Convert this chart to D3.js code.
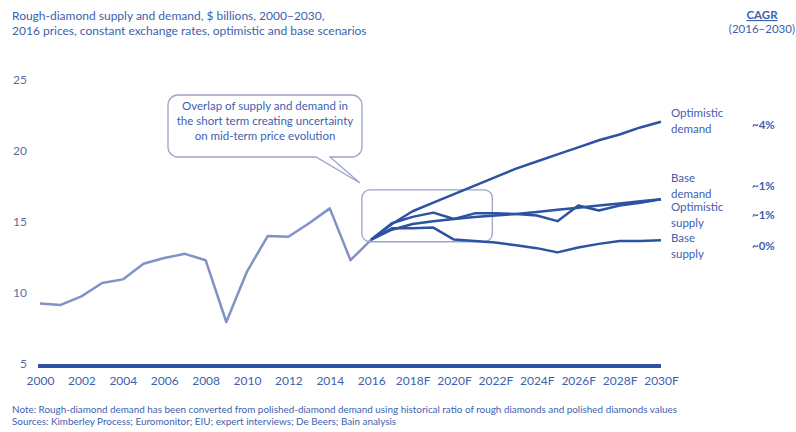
<!DOCTYPE html>
<html><head><meta charset="utf-8">
<script src="https://cdn.jsdelivr.net/npm/d3@7"></script>
<style>
body{margin:0;background:#fff;}
svg{display:block;font-family:Lato,"Open Sans",sans-serif;}
</style></head>
<body><svg id="c" width="796" height="432"></svg>
<script>
const histYears = [2000,2001,2002,2003,2004,2005,2006,2007,2008,2009,2010,2011,2012,2013,2014,2015,2016];
const histValues = [9.4,9.3,9.9,10.85,11.1,12.2,12.6,12.9,12.45,8.1,11.65,14.15,14.1,15.05,16.1,12.45,13.9];
const fcYears = [2016,2017,2018,2019,2020,2021,2022,2023,2024,2025,2026,2027,2028,2029,2030];
const optimisticDemand = [13.9,15.0,15.9,16.5,17.1,17.7,18.3,18.9,19.4,19.9,20.4,20.9,21.3,21.8,22.2];
const baseDemand = [13.9,14.6,15.0,15.2,15.35,15.5,15.6,15.7,15.85,16.0,16.15,16.3,16.45,16.6,16.75];
const optimisticSupply = [13.9,15.05,15.5,15.8,15.35,15.75,15.75,15.7,15.6,15.2,16.3,15.95,16.3,16.5,16.75];
const baseSupply = [13.9,14.7,14.7,14.75,13.9,13.8,13.7,13.5,13.3,13.0,13.35,13.6,13.8,13.8,13.85];
const seriesNames = [["Optimistic","demand"],["Base","demand"],["Optimistic","supply"],["Base","supply"]];
const cagrLabels = ["~4%","~1%","~1%","~0%"];
const xTickYears = [2000,2002,2004,2006,2008,2010,2012,2014,2016,2018,2020,2022,2024,2026,2028,2030];
const xTickLabels = ["2000","2002","2004","2006","2008","2010","2012","2014","2016","2018F","2020F","2022F","2024F","2026F","2028F","2030F"];
const yTicks = [5,10,15,20,25];
const titleLines = ["Rough-diamond supply and demand, $ billions, 2000–2030,","2016 prices, constant exchange rates, optimistic and base scenarios"];
const noteLines = ["Note: Rough-diamond demand has been converted from polished-diamond demand using historical ratio of rough diamonds and polished diamonds values","Sources: Kimberley Process; Euromonitor; EIU; expert interviews; De Beers; Bain analysis"];
const calloutLines = ["Overlap of supply and demand in","the short term creating uncertainty","on mid-term price evolution"];

const textColor = "#3d5fae", axisText = "#5a6e9e", histColor = "#8092c6", fcColor = "#2c52a3", boxColor = "#9aa5c6";
const svg = d3.select("#c");
const x = d3.scaleLinear().domain([2000,2030]).range([40,661]);
const y = d3.scaleLinear().domain([5,25]).range([366,82]);

// title
svg.append("g").selectAll("text").data(titleLines).join("text")
  .attr("x",12).attr("y",(d,i)=>20+i*15).attr("font-size",12).attr("fill",textColor).text(d=>d);
// CAGR header
svg.append("text").attr("x",762).attr("y",19).attr("text-anchor","middle").attr("font-size",11.5)
  .attr("font-weight","bold").attr("fill",textColor).attr("text-decoration","underline").text("CAGR");
svg.append("text").attr("x",795).attr("y",33).attr("text-anchor","end").attr("font-size",11.5)
  .attr("fill",textColor).text("(2016–2030)");

// y axis labels
const yAxis = d3.axisLeft(y).tickValues(yTicks).tickSize(0).tickPadding(0);
const gy = svg.append("g").attr("transform","translate(27,0)").call(yAxis);
gy.select(".domain").remove();
gy.selectAll("text").attr("font-size",12).attr("fill",axisText).attr("font-family","Lato,sans-serif").attr("dy","0.1em");

// x axis
const xAxis = d3.axisBottom(x).tickValues(xTickYears).tickFormat((d,i)=>xTickLabels[i]).tickSize(0).tickPadding(10);
const gx = svg.append("g").attr("transform",`translate(0,${y(5)})`).call(xAxis);
gx.select(".domain").attr("stroke",fcColor).attr("stroke-width",4).attr("d",`M${x(2000)-2},0H${x(2030)}`);
gx.selectAll("text").attr("font-size",12).attr("fill",textColor).attr("font-family","Lato,sans-serif");

const line = d3.line().x(d=>x(d[0])).y(d=>y(d[1]));
svg.append("path").datum(histYears.map((yr,i)=>[yr,histValues[i]]))
  .attr("d",line).attr("fill","none").attr("stroke",histColor).attr("stroke-width",2.5).attr("stroke-linejoin","round");

// highlight box
const hb = {x0:2015.55,x1:2021.85,y0:17.4,y1:13.75};
svg.append("rect").attr("x",x(hb.x0)).attr("y",y(hb.y0)).attr("width",x(hb.x1)-x(hb.x0)).attr("height",y(hb.y1)-y(hb.y0))
  .attr("rx",8).attr("fill","none").attr("stroke",boxColor).attr("stroke-width",1.3);

const allSeries = [optimisticDemand,baseDemand,optimisticSupply,baseSupply];
svg.append("g").selectAll("path").data(allSeries).join("path")
  .attr("d",s=>line(fcYears.map((yr,i)=>[yr,s[i]]))).attr("fill","none")
  .attr("stroke",fcColor).attr("stroke-width",2.5).attr("stroke-linejoin","round");

// callout
const cb = {l:168,t:95,r:362,b:157,r0:10,tx1:316,tx2:330,tipx:360,tipy:183};
const p = d3.path();
p.moveTo(cb.l+cb.r0,cb.t); p.lineTo(cb.r-cb.r0,cb.t); p.arcTo(cb.r,cb.t,cb.r,cb.t+cb.r0,cb.r0);
p.lineTo(cb.r,cb.b-cb.r0); p.arcTo(cb.r,cb.b,cb.r-cb.r0,cb.b,cb.r0);
p.lineTo(cb.tx2,cb.b); p.lineTo(cb.tipx,cb.tipy); p.lineTo(cb.tx1,cb.b);
p.lineTo(cb.l+cb.r0,cb.b); p.arcTo(cb.l,cb.b,cb.l,cb.b-cb.r0,cb.r0);
p.lineTo(cb.l,cb.t+cb.r0); p.arcTo(cb.l,cb.t,cb.l+cb.r0,cb.t,cb.r0); p.closePath();
svg.append("path").attr("d",p.toString()).attr("fill","#fff").attr("stroke",boxColor).attr("stroke-width",1.3);
svg.append("g").selectAll("text").data(calloutLines).join("text")
  .attr("x",(cb.l+cb.r)/2).attr("y",(d,i)=>110+i*15).attr("text-anchor","middle")
  .attr("font-size",11.5).attr("fill",textColor).text(d=>d);

// series labels
const labelY = [117,182,211,242];
const cagrY = [129,190,219,250];
const lg = svg.append("g");
seriesNames.forEach((nm,i)=>{
  nm.forEach((t,j)=>lg.append("text").attr("x",671).attr("y",labelY[i]+j*15.5).attr("font-size",11.5).attr("fill",textColor).text(t));
  lg.append("text").attr("x",752).attr("y",cagrY[i]).attr("font-size",11.5).attr("font-weight","bold").attr("fill",textColor).text(cagrLabels[i]);
});

// notes
svg.append("g").selectAll("text").data(noteLines).join("text")
  .attr("x",12).attr("y",(d,i)=>413+i*11.5).attr("font-size",9.9).attr("fill",textColor).text(d=>d);
</script></body></html>
